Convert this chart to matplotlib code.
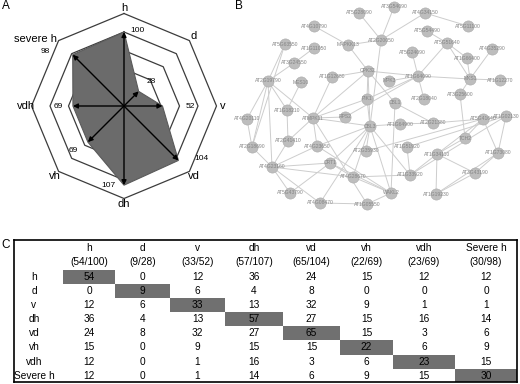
import numpy as np
import matplotlib.pyplot as plt
from matplotlib.patches import Rectangle

plt.rcParams['font.family'] = ['Liberation Sans', 'DejaVu Sans']

# ---------------- panel A: radar of gene counts per phenotype
radar_labels = ['h', 'd', 'v', 'vd', 'dh', 'vh', 'vdh', 'severe h']
radar_totals = [100, 28, 52, 104, 107, 69, 69, 98]
ring_levels = [25, 50, 75, 100, 125]

# ---------------- panel B: interaction network
node_names = ['AT4G10790', 'AT5G28090', 'AT3G54090', 'AT4G34150', 'AT5G54490',
              'AT5G11100', 'AT5G63550', 'AT1G11050', 'MAPKK13', 'AT2G20050',
              'AT5G51640', 'AT5G24090', 'AT4G35290', 'AT1G66400', 'AT3G24550',
              'CPK32', 'AT1G64090', 'MKS1', 'AT1G12270', 'AT2G19790',
              'MES10', 'AT1G12680', 'MPK3', 'AT2G18040', 'AT3G25600',
              'PIK1', 'CBL1', 'AT1G18210', 'AT4G20110', 'ATMPK11',
              'RPS2', 'CBL3', 'AT1G64900', 'AT2G21380', 'AT5G41640',
              'AT1G02130', 'AT2G41410', 'AT4G23650', 'AT2G18690', 'AT2G35930',
              'AT1G51920', 'TCH2', 'AT1G34110', 'AT1G73080', 'CRT1',
              'AT4G23160', 'AT4G28670', 'AT1G33920', 'AT3G43190', 'WAKL2',
              'AT1G19230', 'AT5G43790', 'AT4G08470', 'AT1G05550']
node_x = [314, 359, 394, 425, 427, 468, 285, 314, 348, 381,
          447, 412, 492, 467, 294, 368, 418, 470, 500, 268,
          301, 332, 389, 424, 460, 367, 395, 287, 247, 313,
          345, 370, 400, 433, 483, 506, 288, 317, 252, 366,
          407, 465, 437, 498, 330, 272, 353, 410, 475, 391,
          436, 290, 320, 367]
node_y = [26, 13, 7, 13, 31, 26, 44, 48, 45, 40,
          43, 52, 49, 58, 63, 71, 76, 79, 80, 81,
          82, 77, 81, 99, 94, 99, 103, 110, 119, 118,
          117, 126, 124, 123, 119, 116, 141, 146, 147, 151,
          147, 138, 154, 153, 163, 167, 177, 175, 173, 193,
          194, 193, 203, 204]
edges = [('AT4G10790', 'MAPKK13'), ('AT5G28090', 'AT2G20050'), ('MAPKK13', 'AT2G20050'),
         ('AT4G34150', 'AT2G20050'), ('AT4G34150', 'AT5G11100'), ('AT3G54090', 'AT2G20050'),
         ('AT5G54490', 'AT5G51640'), ('AT5G51640', 'AT1G64090'), ('AT5G51640', 'AT1G66400'),
         ('AT5G51640', 'MKS1'), ('AT1G66400', 'MKS1'), ('AT4G35290', 'MKS1'),
         ('MKS1', 'AT1G12270'), ('MKS1', 'AT1G64090'), ('MKS1', 'AT3G25600'),
         ('AT5G24090', 'AT1G64090'), ('AT1G64090', 'AT2G18040'), ('AT1G64090', 'CPK32'),
         ('AT1G64090', 'RPS2'), ('AT1G64090', 'PIK1'), ('AT3G25600', 'TCH2'),
         ('AT2G20050', 'CBL3'), ('CPK32', 'AT1G12680'), ('CPK32', 'ATMPK11'),
         ('CPK32', 'PIK1'), ('CPK32', 'CBL1'), ('CPK32', 'MAPKK13'), ('CPK32', 'CBL3'),
         ('PIK1', 'CBL3'), ('PIK1', 'ATMPK11'), ('CBL3', 'AT1G64900'), ('CBL3', 'AT2G35930'),
         ('CBL3', 'WAKL2'), ('CBL3', 'AT1G33920'), ('CBL3', 'ATMPK11'), ('CBL3', 'AT4G23650'),
         ('CBL3', 'CRT1'), ('CBL3', 'AT4G28670'), ('CBL3', 'AT4G08470'), ('CBL1', 'WAKL2'),
         ('CBL1', 'AT2G21380'), ('AT1G64900', 'AT2G21380'), ('AT2G21380', 'AT5G41640'),
         ('AT5G41640', 'TCH2'), ('AT5G41640', 'AT1G73080'), ('AT5G41640', 'AT1G02130'),
         ('AT1G02130', 'AT1G73080'), ('AT1G02130', 'AT1G51920'), ('AT5G41640', 'AT1G34110'),
         ('AT1G02130', 'AT1G33920'), ('AT1G34110', 'AT1G19230'), ('AT1G34110', 'AT3G43190'),
         ('AT1G34110', 'AT1G33920'), ('AT1G34110', 'TCH2'), ('AT1G73080', 'AT3G43190'),
         ('AT1G73080', 'AT1G19230'), ('AT1G51920', 'AT1G33920'), ('WAKL2', 'AT4G28670'),
         ('WAKL2', 'AT1G05550'), ('WAKL2', 'CRT1'), ('WAKL2', 'AT4G23650'),
         ('AT4G28670', 'AT1G33920'), ('AT2G19790', 'AT5G63550'), ('AT2G19790', 'AT3G24550'),
         ('AT2G19790', 'AT1G18210'), ('AT2G19790', 'AT2G18690'), ('AT2G19790', 'AT4G23160'),
         ('AT2G19790', 'ATMPK11'), ('AT4G20110', 'AT2G18690'), ('AT4G20110', 'AT2G19790'),
         ('AT1G18210', 'AT2G41410'), ('AT1G18210', 'MES10'), ('AT2G41410', 'AT4G23160'),
         ('AT2G41410', 'ATMPK11'), ('AT4G23160', 'AT5G43790'), ('AT4G23160', 'CRT1'),
         ('AT4G23160', 'AT4G08470'), ('AT4G23160', 'AT2G18690'), ('AT4G23160', 'AT4G28670'),
         ('AT4G23160', 'AT4G23650'), ('AT1G12680', 'ATMPK11'), ('AT1G11050', 'AT3G24550'),
         ('ATMPK11', 'RPS2'), ('ATMPK11', 'AT4G23650'), ('ATMPK11', 'AT1G05550'),
         ('AT4G08470', 'AT1G05550'), ('CRT1', 'AT4G28670'), ('CRT1', 'AT5G43790'),
         ('MPK3', 'AT1G64090'), ('AT2G35930', 'AT5G41640'), ('AT1G19230', 'AT3G43190'),
         ('AT5G63550', 'AT2G18690')]

# ---------------- panel C: overlap table
col_names = ['h', 'd', 'v', 'dh', 'vd', 'vh', 'vdh', 'Severe h']
col_counts = ['(54/100)', '(9/28)', '(33/52)', '(57/107)', '(65/104)', '(22/69)', '(23/69)', '(30/98)']
row_names = ['h', 'd', 'v', 'dh', 'vd', 'vh', 'vdh', 'Severe h']
overlap = [[54, 0, 12, 36, 24, 15, 12, 12],
           [0, 9, 6, 4, 8, 0, 0, 0],
           [12, 6, 33, 13, 32, 9, 1, 1],
           [36, 4, 13, 57, 27, 15, 16, 14],
           [24, 8, 32, 27, 65, 15, 3, 6],
           [15, 0, 9, 15, 15, 22, 6, 9],
           [12, 0, 1, 16, 3, 6, 23, 15],
           [12, 0, 1, 14, 6, 9, 15, 30]]

W, H = 520, 384
fig = plt.figure(figsize=(W / 100, H / 100), dpi=100)


def px_axes(x0, y0, x1, y1):
    return fig.add_axes([x0 / W, 1 - y1 / H, (x1 - x0) / W, (y1 - y0) / H])


# ===== A
scale = 0.74  # px per unit
ax = px_axes(0, 0, 248, 212)
ax.set_xlim(-124 / scale, 124 / scale)
ax.set_ylim(-106 / scale, 106 / scale)
ax.axis('off')
ang = np.deg2rad(90 - 45 * np.arange(len(radar_labels)))
cs, sn = np.cos(ang), np.sin(ang)
for r in ring_levels:
    ax.plot(np.append(r * cs, r * cs[0]), np.append(r * sn, r * sn[0]),
            color='#3c3c3c', lw=0.9, zorder=1)
tot = np.array(radar_totals)
ax.fill(tot * cs, tot * sn, facecolor='#6b6b6b', edgecolor='#5a5a5a', lw=0.8, zorder=2)
for i, t in enumerate(tot):
    ax.annotate('', xy=(t * cs[i], t * sn[i]), xytext=(0, 0),
                arrowprops=dict(arrowstyle='-|>', color='black', lw=1.0,
                                mutation_scale=7, shrinkA=0, shrinkB=0), zorder=3)
for i, lab in enumerate(radar_labels):
    ha = 'right' if lab == 'severe h' else 'center'
    rr = 133 if lab != 'severe h' else 128
    ax.text(rr * cs[i], rr * sn[i], lab, ha=ha, va='center', fontsize=8)
# value label offsets in pixels (right, down)
val_off = [(13, -2), (13, -10), (28, 0), (23, -2), (-16, 0), (-15, 8), (-15, 1), (-27, -3)]
for i, t in enumerate(tot):
    dx, dy = val_off[i]
    ax.text(t * cs[i] + dx / scale, t * sn[i] - dy / scale, str(t),
            ha='center', va='center', fontsize=6)
fig.text(6 / W, 1 - 6 / H, 'A', ha='center', va='center', fontsize=8.5)

# ===== B
axb = px_axes(230, 0, 520, 215)
axb.set_xlim(230, 520)
axb.set_ylim(215, 0)
axb.axis('off')
pos = {n: (x, y) for n, x, y in zip(node_names, node_x, node_y)}
for a, b in edges:
    axb.plot([pos[a][0], pos[b][0]], [pos[a][1], pos[b][1]],
             color='#cdcdcd', lw=0.7, zorder=1)
axb.scatter(node_x, node_y, s=65, c='#bdbdbd', edgecolors='#ababab', linewidths=0.4, zorder=2)
for n, x, y in zip(node_names, node_x, node_y):
    axb.text(x, y, n, ha='center', va='center', fontsize=3.6, color='#858585', zorder=3)
fig.text(239 / W, 1 - 6 / H, 'B', ha='center', va='center', fontsize=8.5)

# ===== C
col_edges = [63, 115, 170, 225, 283, 340, 393, 455, 517]
axc = px_axes(14, 240, 517, 382)
axc.set_xlim(14, 517)
axc.set_ylim(7.45, -2.62)
axc.set_xticks([])
axc.set_yticks([])
for s in axc.spines.values():
    s.set_linewidth(1.2)
centers = [(col_edges[j] + col_edges[j + 1]) / 2 for j in range(len(col_names))]
for j, (name, cnt) in enumerate(zip(col_names, col_counts)):
    axc.text(centers[j], -2.05, name, ha='center', va='center', fontsize=7.3)
    axc.text(centers[j], -1.03, cnt, ha='center', va='center', fontsize=7.3)
for i, rname in enumerate(row_names):
    axc.add_patch(Rectangle((col_edges[i], i - 0.5), col_edges[i + 1] - col_edges[i], 1,
                            facecolor='#707070', edgecolor='none', zorder=0))
    axc.text(34, i, rname, ha='center', va='center', fontsize=7.3)
    for j, v in enumerate(overlap[i]):
        axc.text(centers[j], i, str(v), ha='center', va='center', fontsize=7.3)
fig.text(6 / W, 1 - 245 / H, 'C', ha='center', va='center', fontsize=8.5)

fig.savefig('out.png', dpi=100)
